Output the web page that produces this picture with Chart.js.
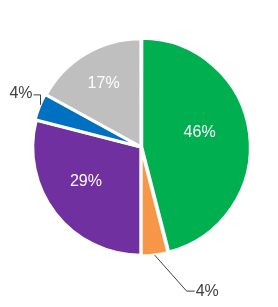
<!DOCTYPE html>
<html>
<head>
<meta charset="utf-8">
<script src="https://cdn.jsdelivr.net/npm/chart.js@4"></script>
<style>
  html, body { margin: 0; padding: 0; background: #fff; }
  #wrap { width: 278px; height: 307px; position: relative; }
</style>
</head>
<body>
<div id="wrap"><canvas id="c" width="278" height="307"></canvas></div>
<script>
const categories = ['A', 'B', 'C', 'D', 'E'];
const values = [46, 4, 29, 4, 17];
const labels = ['46%', '4%', '29%', '4%', '17%'];
const colors = ['#00B050', '#F79646', '#7030A0', '#0070C0', '#BFBFBF'];

// label placement styles (inside / outside with leader line)
const labelStyle = [
  { type: 'in', frac: 0.56, angShift: -7 },
  { type: 'outBottom' },
  { type: 'in', frac: 0.60, angShift: 6 },
  { type: 'outLeft' },
  { type: 'in', frac: 0.68, angShift: 0 }
];

const labelPlugin = {
  id: 'sliceLabels',
  afterDatasetsDraw(chart) {
    const ctx = chart.ctx;
    const meta = chart.getDatasetMeta(0);
    ctx.save();
    ctx.font = '16px "Liberation Sans", Arial, sans-serif';
    meta.data.forEach((arc, i) => {
      const p = arc.getProps(['x', 'y', 'startAngle', 'endAngle', 'outerRadius'], true);
      const st = labelStyle[i];
      const mid = (p.startAngle + p.endAngle) / 2;
      if (st.type === 'in') {
        const a = mid + st.angShift * Math.PI / 180;
        const r = p.outerRadius * st.frac;
        ctx.fillStyle = '#FFFFFF';
        ctx.textAlign = 'center';
        ctx.textBaseline = 'middle';
        ctx.fillText(labels[i], p.x + Math.cos(a) * r, p.y + Math.sin(a) * r);
      } else {
        const ox = p.x + Math.cos(mid) * (p.outerRadius + 1);
        const oy = p.y + Math.sin(mid) * (p.outerRadius + 1);
        ctx.strokeStyle = '#404040';
        ctx.lineWidth = 1;
        ctx.fillStyle = '#404040';
        ctx.textBaseline = 'middle';
        ctx.beginPath();
        if (st.type === 'outLeft') {
          const ex = Math.round(ox) + 0.5, ey = oy - 12;
          ctx.moveTo(ex, oy - 2);
          ctx.lineTo(ex, ey);
          ctx.lineTo(ex - 7, ey);
          ctx.stroke();
          ctx.textAlign = 'right';
          ctx.fillText(labels[i], ex - 8, ey - 1);
        } else {
          const ex = ox + 32, ey = oy + 36;
          ctx.moveTo(ox, oy);
          ctx.lineTo(ex, ey);
          ctx.lineTo(ex + 8, ey);
          ctx.stroke();
          ctx.textAlign = 'left';
          ctx.fillText(labels[i], ex + 9, ey);
        }
      }
    });
    ctx.restore();
  }
};

new Chart(document.getElementById('c'), {
  type: 'pie',
  data: {
    labels: categories,
    datasets: [{
      data: values,
      backgroundColor: colors,
      borderColor: '#FFFFFF',
      borderWidth: 3,
      offset: [3, 2, 1, 3, 1],
      radius: 108
    }]
  },
  options: {
    responsive: false,
    animation: false,
    layout: { padding: { left: 4, right: 0, top: 0, bottom: 13 } },
    plugins: { legend: { display: false }, tooltip: { enabled: false } }
  },
  plugins: [labelPlugin]
});
</script>
</body>
</html>
